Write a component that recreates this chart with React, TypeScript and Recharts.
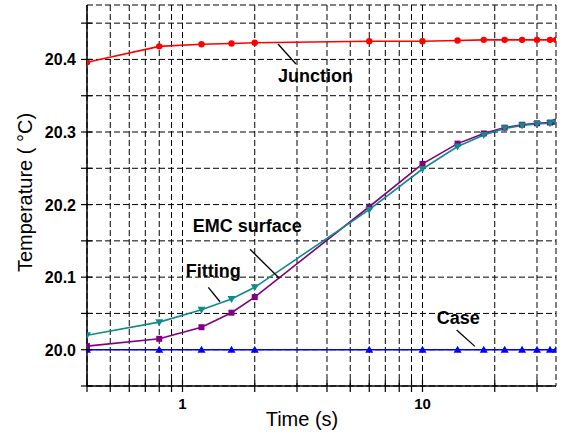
import React from 'react';
import { LineChart, Line, XAxis, YAxis, CartesianGrid, ReferenceLine, ReferenceDot, Label } from 'recharts';

// time steps (s)
const times = [0.4, 0.8, 1.2, 1.6, 2, 6, 10, 14, 18, 22, 26, 30, 34, 36];
const junction = [20.396, 20.418, 20.421, 20.422, 20.423, 20.425, 20.425, 20.426, 20.427, 20.427, 20.427, 20.427, 20.427, 20.427];
const emcSurface = [20.02, 20.038, 20.055, 20.07, 20.086, 20.193, 20.249, 20.28, 20.296, 20.305, 20.309, 20.311, 20.312, 20.313];
const fitting = [20.005, 20.015, 20.031, 20.051, 20.0725, 20.197, 20.256, 20.284, 20.298, 20.306, 20.31, 20.312, 20.313, 20.314];
const caseTemp = [20.0, 20.0, 20.0, 20.0, 20.0, 20.0, 20.0, 20.0, 20.0, 20.0, 20.0, 20.0, 20.0, 20.0];

const xTicks = [0.4, 0.5, 0.6, 0.7, 0.8, 0.9, 1, 2, 3, 4, 5, 6, 7, 8, 9, 10, 20, 30];
const xLabels = [1, 10];
const yTicks = [19.95, 20.0, 20.05, 20.1, 20.15, 20.2, 20.25, 20.3, 20.35, 20.4, 20.45];

const data = times.map((t, i) => ({
    t,
    junction: junction[i],
    emc: emcSurface[i],
    fitting: fitting[i],
    caseT: caseTemp[i],
}));

const FONT = '"Liberation Sans", Arial, sans-serif';

const isLabelled = (v: number) => Math.abs(v * 10 - Math.round(v * 10)) < 1e-6;

const YTick = (props: any) => {
    const { x, y, payload } = props;
    const v = payload.value as number;
    return (
        <g>
            <line x1={x - 6} x2={x + 5} y1={y} y2={y} stroke="#000" strokeWidth={1.2} />
            {isLabelled(v) && v > 19.97 && (
                <text x={x - 11} y={y} dy={6} textAnchor="end" fontFamily={FONT} fontWeight="bold" fontSize={16} fill="#000">
                    {v.toFixed(1)}
                </text>
            )}
        </g>
    );
};

const RightTick = (props: any) => {
    const { x, y } = props;
    return <line x1={x - 6} x2={x} y1={y} y2={y} stroke="#000" strokeWidth={1.2} />;
};

const XTick = (props: any) => {
    const { x, y, payload } = props;
    const v = payload.value as number;
    return (
        <g>
            <line x1={x} x2={x} y1={y - 6} y2={y + 6} stroke="#000" strokeWidth={1.2} />
            {xLabels.includes(v) && (
                <text x={x} y={y} dy={23} textAnchor="middle" fontFamily={FONT} fontWeight="bold" fontSize={15} fill="#000">
                    {v}
                </text>
            )}
        </g>
    );
};

const circleDot = (props: any) => {
    const { cx, cy, index } = props;
    return <circle key={`c${index}`} cx={cx} cy={cy} r={3.2} fill="#ff0000" stroke="none" />;
};

const squareDot = (props: any) => {
    const { cx, cy, index } = props;
    return <rect key={`s${index}`} x={cx - 3} y={cy - 3} width={6} height={6} fill="#800080" />;
};

const downTri = (props: any) => {
    const { cx, cy, index } = props;
    return <path key={`d${index}`} d={`M${cx - 4},${cy - 3}L${cx + 4},${cy - 3}L${cx},${cy + 4}Z`} fill="#108a8a" />;
};

const upTri = (props: any) => {
    const { cx, cy, index } = props;
    return <path key={`u${index}`} d={`M${cx - 4},${cy + 3}L${cx + 4},${cy + 3}L${cx},${cy - 4}Z`} fill="#0000ff" />;
};

const note = (text: string) => (p: any) => (
    <text x={p.cx} y={p.cy} fontFamily={FONT} fontWeight="bold" fontSize={18} fill="#000">
        {text}
    </text>
);

const App = () => {
    return (
        <div>
            <style>{'body{margin:0}'}</style>
            <LineChart width={562} height={435} data={data} margin={{ top: 5, right: 6, left: 0, bottom: 0 }}>
                <CartesianGrid stroke="#000" strokeDasharray="6 3" strokeWidth={1} />
                <XAxis
                    dataKey="t"
                    type="number"
                    scale="log"
                    domain={[0.4, 36]}
                    allowDataOverflow
                    ticks={xTicks}
                    interval={0}
                    height={49}
                    tickSize={0}
                    tickMargin={0}
                    tick={XTick}
                    axisLine={{ stroke: '#000', strokeWidth: 1.5 }}
                >
                    <Label
                        content={(p: any) => (
                            <text x={p.viewBox.x + 215} y={p.viewBox.y + 40} textAnchor="middle" fontFamily={FONT} fontSize={20} fill="#000">
                                Time (s)
                            </text>
                        )}
                    />
                </XAxis>
                <XAxis
                    xAxisId="top"
                    orientation="top"
                    dataKey="t"
                    type="number"
                    scale="log"
                    domain={[0.4, 36]}
                    allowDataOverflow
                    height={0}
                    tick={false}
                    tickLine={false}
                    axisLine={{ stroke: '#000', strokeWidth: 1.5 }}
                />
                <YAxis
                    type="number"
                    domain={[19.95, 20.475]}
                    allowDataOverflow
                    ticks={yTicks}
                    interval={0}
                    width={87}
                    tickSize={0}
                    tickMargin={0}
                    tick={YTick}
                    axisLine={{ stroke: '#000', strokeWidth: 1.5 }}
                >
                    <Label
                        content={(p: any) => {
                            const cx = 25;
                            const cy = p.viewBox.y + p.viewBox.height / 2 - 3;
                            return (
                                <text x={cx} y={cy} transform={`rotate(-90 ${cx} ${cy})`} textAnchor="middle" dy={7} fontFamily={FONT} fontSize={20} fill="#000">
                                    Temperature ( °C)
                                </text>
                            );
                        }}
                    />
                </YAxis>
                <YAxis
                    yAxisId="right"
                    orientation="right"
                    type="number"
                    domain={[19.95, 20.475]}
                    allowDataOverflow
                    ticks={yTicks}
                    interval={0}
                    width={0}
                    tickSize={0}
                    tickMargin={0}
                    tick={RightTick}
                    axisLine={{ stroke: '#000', strokeWidth: 1.5 }}
                />

                <Line type="linear" dataKey="caseT" stroke="#0000ff" strokeWidth={1.6} dot={upTri} isAnimationActive={false} />
                <Line type="linear" dataKey="junction" stroke="#ff0000" strokeWidth={1.6} dot={circleDot} isAnimationActive={false} />
                <Line type="linear" dataKey="fitting" stroke="#800080" strokeWidth={1.6} dot={squareDot} isAnimationActive={false} />
                <Line type="linear" dataKey="emc" stroke="#108a8a" strokeWidth={1.6} dot={downTri} isAnimationActive={false} />

                {/* annotation leaders, in data coordinates */}
                <ReferenceLine segment={[{ x: 2.5, y: 20.4213 }, { x: 2.97, y: 20.3937 }]} stroke="#000" strokeWidth={1.3} />
                <ReferenceLine segment={[{ x: 1.281, y: 20.086 }, { x: 1.433, y: 20.0661 }]} stroke="#000" strokeWidth={1.3} />
                <ReferenceLine segment={[{ x: 1.911, y: 20.1384 }, { x: 2.532, y: 20.0984 }]} stroke="#000" strokeWidth={1.3} />
                <ReferenceLine segment={[{ x: 13.88, y: 20.0272 }, { x: 16.53, y: 20.0046 }]} stroke="#000" strokeWidth={1.3} />

                <ReferenceDot x={2.5} y={20.369} r={0} shape={note('Junction')} />
                <ReferenceDot x={1.031} y={20.1002} r={0} shape={note('Fitting')} />
                <ReferenceDot x={1.103} y={20.1626} r={0} shape={note('EMC surface')} />
                <ReferenceDot x={11.46} y={20.0354} r={0} shape={note('Case')} />
            </LineChart>
        </div>
    );
};

export default App;
